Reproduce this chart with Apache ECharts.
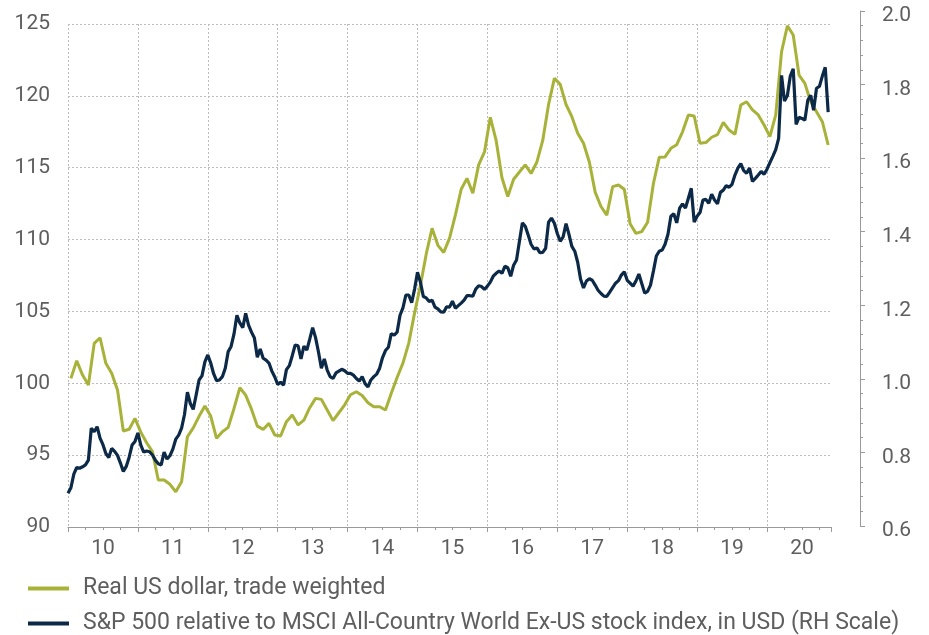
<!DOCTYPE html>
<html>
<head>
<meta charset="utf-8">
<title>Real US dollar vs S&amp;P 500 relative</title>
<script src="https://cdn.jsdelivr.net/npm/echarts@6/dist/echarts.min.js"></script>
<style>
  html, body { margin: 0; padding: 0; background: #fff; }
  #chart { width: 929px; height: 635px; }
</style>
</head>
<body>
<div id="chart"></div>
<script>
// real trade-weighted USD, monthly from Jan 2010 (left scale)
const usdReal = [
  100.34, 101.57, 100.57, 99.88, 102.78, 103.17, 101.39, 100.69, 99.53, 96.68, 96.80, 97.56,
  96.60, 95.86, 95.24, 93.27, 93.27, 92.97, 92.45, 93.15, 96.28, 96.90, 97.70, 98.42,
  97.72, 96.17, 96.63, 96.93, 98.25, 99.69, 99.18, 98.20, 97.02, 96.79, 97.21, 96.40,
  96.33, 97.33, 97.79, 97.10, 97.44, 98.30, 98.95, 98.88, 98.14, 97.40, 97.95, 98.50,
  99.20, 99.41, 99.15, 98.65, 98.37, 98.37, 98.14, 99.30, 100.40, 101.40, 102.80, 104.90,
  106.80, 109.00, 110.78, 109.60, 109.10, 110.10, 111.70, 113.50, 114.26, 113.22, 115.20, 116.10,
  118.51, 116.90, 114.30, 113.00, 114.20, 114.70, 115.20, 114.60, 115.40, 116.90, 119.40, 121.22,
  120.80, 119.40, 118.55, 117.40, 116.70, 115.40, 113.30, 112.30, 111.70, 113.68, 113.80, 113.50,
  111.10, 110.43, 110.55, 111.20, 113.90, 115.72, 115.75, 116.35, 116.60, 117.50, 118.67, 118.60,
  116.70, 116.75, 117.12, 117.30, 118.16, 117.62, 117.32, 119.36, 119.59, 119.02, 118.67, 117.97,
  117.16, 118.67, 123.07, 124.88, 124.23, 121.45, 120.87, 119.59, 118.90, 118.20, 116.58
]

// S&P 500 relative to MSCI ACWI ex-US, twice a month from Jan 2010 (right scale)
const spxRelative = [
  0.689, 0.704, 0.741, 0.759, 0.757, 0.761, 0.766, 0.779, 0.866, 0.856, 0.870, 0.839,
  0.821, 0.797, 0.786, 0.811, 0.803, 0.792, 0.771, 0.748, 0.762, 0.787, 0.820, 0.830,
  0.853, 0.820, 0.801, 0.804, 0.802, 0.793, 0.779, 0.769, 0.766, 0.801, 0.782, 0.791,
  0.809, 0.836, 0.847, 0.866, 0.903, 0.964, 0.933, 0.917, 0.956, 0.997, 1.008, 1.046,
  1.065, 1.043, 1.014, 0.995, 0.997, 1.006, 1.029, 1.074, 1.088, 1.122, 1.173, 1.152,
  1.139, 1.178, 1.146, 1.127, 1.111, 1.059, 1.081, 1.056, 1.051, 1.043, 1.021, 1.005,
  0.985, 0.991, 0.983, 1.025, 1.036, 1.063, 1.092, 1.090, 1.054, 1.089, 1.078, 1.108,
  1.139, 1.112, 1.073, 1.029, 1.054, 1.024, 1.006, 1.001, 1.016, 1.021, 1.026, 1.022,
  1.015, 1.015, 1.010, 1.001, 0.994, 1.006, 0.987, 0.978, 0.997, 1.006, 1.013, 1.029,
  1.058, 1.077, 1.086, 1.123, 1.119, 1.127, 1.173, 1.193, 1.228, 1.228, 1.207, 1.244,
  1.290, 1.263, 1.224, 1.220, 1.210, 1.214, 1.195, 1.190, 1.182, 1.181, 1.196, 1.195,
  1.211, 1.192, 1.199, 1.206, 1.214, 1.226, 1.226, 1.225, 1.244, 1.253, 1.251, 1.243,
  1.252, 1.263, 1.279, 1.287, 1.293, 1.287, 1.306, 1.302, 1.279, 1.309, 1.323, 1.374,
  1.424, 1.415, 1.391, 1.366, 1.353, 1.356, 1.343, 1.344, 1.355, 1.426, 1.437, 1.423,
  1.395, 1.374, 1.386, 1.422, 1.393, 1.360, 1.347, 1.317, 1.271, 1.247, 1.266, 1.272,
  1.268, 1.255, 1.241, 1.232, 1.225, 1.224, 1.236, 1.248, 1.260, 1.267, 1.282, 1.291,
  1.268, 1.260, 1.252, 1.266, 1.285, 1.259, 1.233, 1.238, 1.255, 1.293, 1.334, 1.347,
  1.350, 1.366, 1.393, 1.442, 1.449, 1.424, 1.464, 1.476, 1.464, 1.491, 1.518, 1.426,
  1.442, 1.452, 1.486, 1.488, 1.477, 1.502, 1.486, 1.476, 1.507, 1.513, 1.525, 1.521,
  1.529, 1.554, 1.573, 1.585, 1.566, 1.559, 1.573, 1.537, 1.545, 1.554, 1.564, 1.556,
  1.570, 1.588, 1.605, 1.623, 1.654, 1.825, 1.755, 1.770, 1.823, 1.843, 1.692, 1.711,
  1.708, 1.703, 1.757, 1.771, 1.730, 1.790, 1.795, 1.823, 1.847, 1.725
]

const yearLabels = ['10', '11', '12', '13', '14', '15', '16', '17', '18', '19', '20']
const seriesNames = [
  'Real US dollar, trade weighted',
  'S&P 500 relative to MSCI All-Country World Ex-US stock index, in USD (RH Scale)'
]

const startYear = 2010
const olive = '#a9b238'
const navy = '#0c2a48'
const textGrey = '#5e5e5e'
const font = 'Roboto, "Noto Sans", sans-serif'

// monthly points sit mid-month, half-monthly ones on the 1st / 16th
const usdData = usdReal.map((v, i) => [startYear + (i + 0.5) / 12, v])
const spxData = spxRelative.map((v, i) => [startYear + i / 24, v])

const chart = echarts.init(document.getElementById('chart'), null, { renderer: 'canvas' })

const gridLine = { show: true, lineStyle: { color: '#bcbcbc', type: [2, 2], width: 1 } }

chart.setOption({
  animation: false,
  backgroundColor: '#fff',
  textStyle: { fontFamily: font },
  grid: [
    // main plot area (left scale)
    { left: 68, right: 98, top: 24, bottom: 108 },
    // right scale sits a bit further out and reaches a bit higher
    { left: 68, right: 69, top: 11, bottom: 109 }
  ],
  legend: {
    orient: 'vertical',
    left: 28,
    top: 577,
    padding: 0,
    itemWidth: 41,
    itemHeight: 4,
    itemGap: 12,
    textStyle: { fontSize: 23, color: textGrey, fontFamily: font, padding: [0, 0, 0, 9], lineHeight: 23 },
    data: [
      { name: seriesNames[0], icon: 'rect' },
      { name: seriesNames[1], icon: 'rect' }
    ]
  },
  xAxis: [
    {
      type: 'value',
      gridIndex: 0,
      min: startYear,
      max: startYear + 763 / 69.9,
      interval: 1,
      axisLine: { show: true, lineStyle: { color: '#9a9a9a', width: 1 } },
      axisTick: { show: true, length: 5, lineStyle: { color: '#9a9a9a' } },
      minorTick: { show: true, splitNumber: 4, length: 3, lineStyle: { color: '#9a9a9a' } },
      axisLabel: { show: false },
      splitLine: Object.assign({ showMaxLine: false }, gridLine)
    },
    {
      // year labels centred on each year
      type: 'value',
      gridIndex: 0,
      position: 'bottom',
      min: startYear,
      max: startYear + 763 / 69.9,
      interval: 0.5,
      axisLine: { show: false },
      axisTick: { show: false },
      splitLine: { show: false },
      axisLabel: {
        show: true,
        fontSize: 21,
        color: textGrey,
        margin: 11,
        showMaxLabel: false,
        formatter: function (v) {
          const frac = v - Math.floor(v)
          if (Math.abs(frac - 0.5) > 1e-6) return ''
          return yearLabels[Math.floor(v) - startYear] || ''
        }
      }
    },
    {
      type: 'value',
      gridIndex: 1,
      min: startYear,
      max: startYear + 792 / 69.9,
      show: false
    }
  ],
  yAxis: [
    {
      type: 'value',
      gridIndex: 0,
      position: 'left',
      min: 90,
      max: 125,
      interval: 5,
      axisLine: { show: false },
      axisTick: { show: false },
      axisLabel: { fontSize: 21, color: textGrey, margin: 18 },
      splitLine: gridLine
    },
    {
      type: 'value',
      gridIndex: 1,
      position: 'right',
      min: 0.6,
      max: 2.0,
      interval: 0.2,
      axisLine: { show: true, lineStyle: { color: '#9a9a9a', width: 1 } },
      axisTick: { show: true, inside: false, length: 5, lineStyle: { color: '#9a9a9a' } },
      minorTick: { show: true, splitNumber: 5, length: 3, lineStyle: { color: '#9a9a9a' } },
      axisLabel: {
        fontSize: 21,
        color: textGrey,
        margin: 22,
        // labels hang slightly below their ticks in the original
        verticalAlign: 'top',
        lineHeight: 10,
        formatter: v => v.toFixed(1)
      },
      splitLine: { show: false }
    }
  ],
  series: [
    {
      name: seriesNames[0],
      type: 'line',
      xAxisIndex: 0,
      yAxisIndex: 0,
      data: usdData,
      showSymbol: false,
      color: olive,
      lineStyle: { color: olive, width: 3 },
      z: 2
    },
    {
      name: seriesNames[1],
      type: 'line',
      xAxisIndex: 2,
      yAxisIndex: 1,
      data: spxData,
      showSymbol: false,
      color: navy,
      lineStyle: { color: navy, width: 3.2 },
      z: 3
    }
  ]
})
</script>
</body>
</html>
